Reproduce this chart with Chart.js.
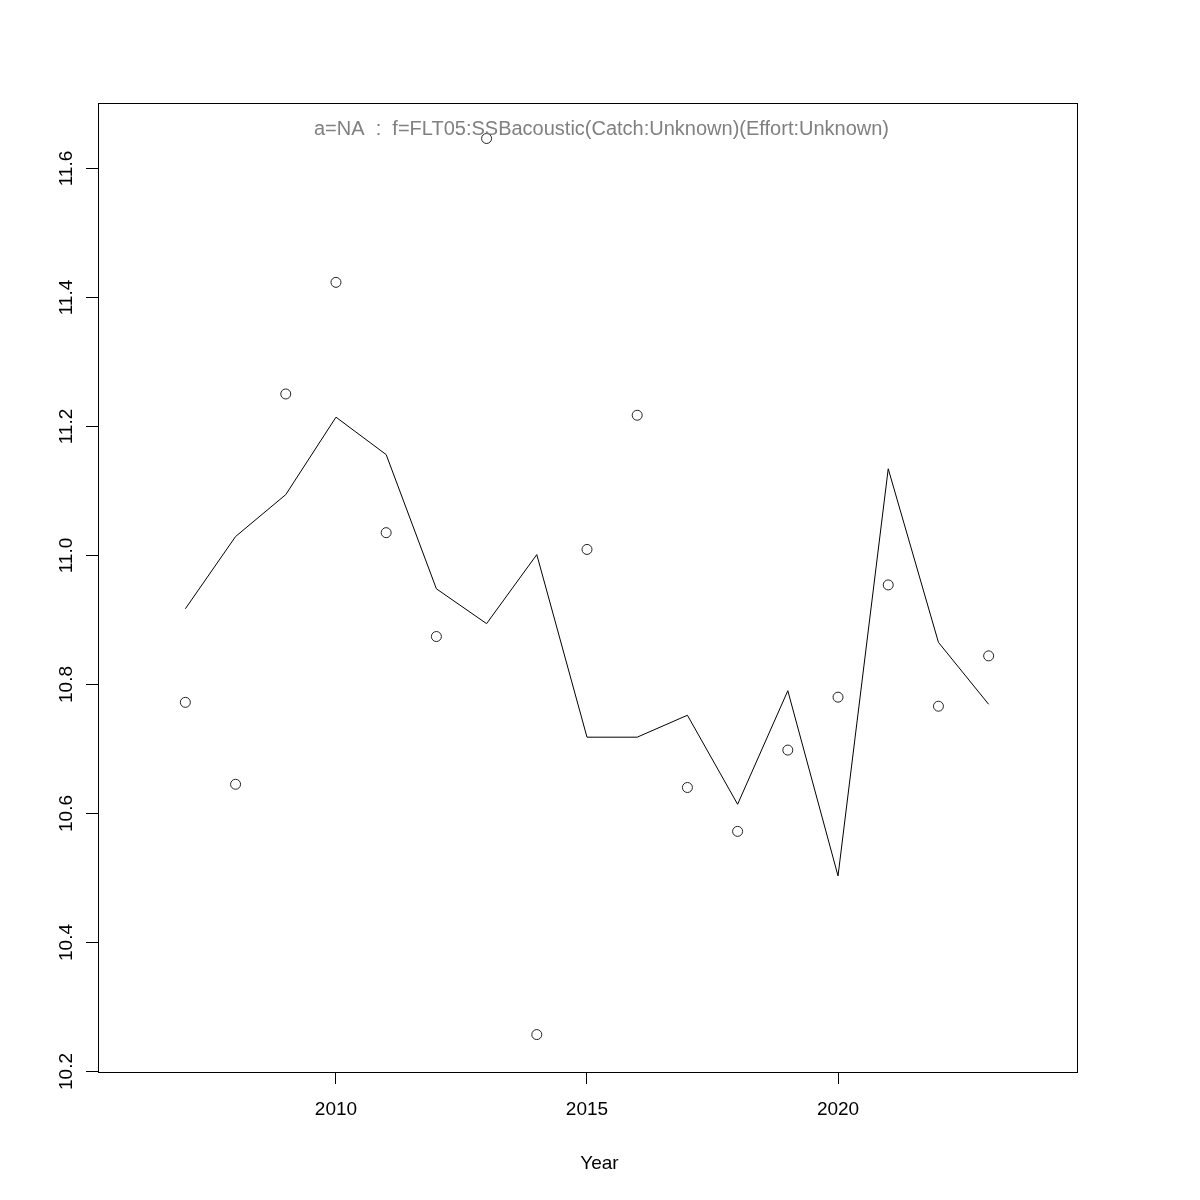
<!DOCTYPE html>
<html>
<head>
<meta charset="utf-8">
<script src="https://cdn.jsdelivr.net/npm/chart.js@4"></script>
<style>
  html, body { margin: 0; background: #fff; }
  canvas { display: block; }
</style>
</head>
<body>
<canvas id="chart" width="1200" height="1200" style="width:1200px;height:1200px"></canvas>
<script>
const years = [2007, 2008, 2009, 2010, 2011, 2012, 2013, 2014, 2015, 2016, 2017, 2018, 2019, 2020, 2021, 2022, 2023];
const observed = [10.771, 10.644, 11.249, 11.422, 11.034, 10.873, 11.645, 10.256, 11.008, 11.216, 10.639, 10.571, 10.697, 10.779, 10.953, 10.765, 10.843];
const fitted = [10.916, 11.028, 11.093, 11.213, 11.155, 10.947, 10.893, 11.000, 10.717, 10.717, 10.751, 10.613, 10.789, 10.502, 11.133, 10.864, 10.768];
const xTicks = [2010, 2015, 2020];
const yTicks = [10.2, 10.4, 10.6, 10.8, 11.0, 11.2, 11.4, 11.6];
const titleText = "a=NA  :  f=FLT05:SSBacoustic(Catch:Unknown)(Effort:Unknown)";
const xLabel = "Year";

const FONT = "'Liberation Sans', Arial, Helvetica, sans-serif";

// R-style box, rotated y labels, title and x label
const rStyle = {
  id: "rStyle",
  afterDraw(chart) {
    const { ctx, chartArea: a, scales } = chart;
    ctx.save();
    ctx.strokeStyle = "#000";
    ctx.lineWidth = 1;
    ctx.strokeRect(Math.round(a.left) + 0.5, Math.round(a.top) + 0.5,
      Math.round(a.right - a.left), Math.round(a.bottom - a.top));

    // y ticks + labels
    ctx.fillStyle = "#000";
    ctx.font = "19px " + FONT;
    ctx.textAlign = "center";
    ctx.textBaseline = "alphabetic";
    yTicks.forEach((v) => {
      const py = Math.round(scales.y.getPixelForValue(v)) + 0.5;
      ctx.beginPath();
      ctx.moveTo(a.left - 12, py);
      ctx.lineTo(a.left, py);
      ctx.stroke();
      ctx.save();
      ctx.translate(71.5, py);
      ctx.rotate(-Math.PI / 2);
      ctx.fillText(v.toFixed(1), 0, 0);
      ctx.restore();
    });

    const cx = (a.left + a.right) / 2 + 12;
    ctx.fillText(xLabel, cx, 1168.5);

    ctx.fillStyle = "#808080";
    ctx.font = "20px " + FONT;
    ctx.fillText(titleText, cx + 2, 135);
    ctx.restore();
  },
};

new Chart(document.getElementById("chart"), {
  type: "scatter",
  data: {
    datasets: [
      {
        type: "line",
        data: years.map((y, i) => ({ x: y, y: fitted[i] })),
        borderColor: "#000",
        borderWidth: 1,
        pointRadius: 0,
        tension: 0,
        fill: false,
      },
      {
        type: "scatter",
        data: years.map((y, i) => ({ x: y, y: observed[i] })),
        pointRadius: 5,
        pointBorderColor: "#222",
        pointBackgroundColor: "rgba(0,0,0,0)",
        pointBorderWidth: 1,
      },
    ],
  },
  options: {
    responsive: false,
    animation: false,
    layout: { padding: { top: 103, right: 123, left: 0, bottom: 0 } },
    plugins: {
      legend: { display: false },
      tooltip: { enabled: false },
    },
    scales: {
      x: {
        type: "linear",
        min: 2005.26,
        max: 2024.76,
        afterBuildTicks: (s) => {
          s.ticks = xTicks.map((v) => ({ value: v }));
        },
        afterFit: (s) => {
          s.height = 128;
        },
        grid: { drawOnChartArea: false, tickLength: 12, color: "#000" },
        border: { display: false },
        ticks: {
          color: "#000",
          font: { family: FONT, size: 19 },
          padding: 14,
          maxRotation: 0,
          callback: (v) => String(v),
        },
      },
      y: {
        min: 10.198,
        max: 11.7,
        afterFit: (s) => {
          s.width = 98;
        },
        ticks: { display: false },
        grid: { display: false },
        border: { display: false },
      },
    },
  },
  plugins: [rStyle],
});
</script>
</body>
</html>
